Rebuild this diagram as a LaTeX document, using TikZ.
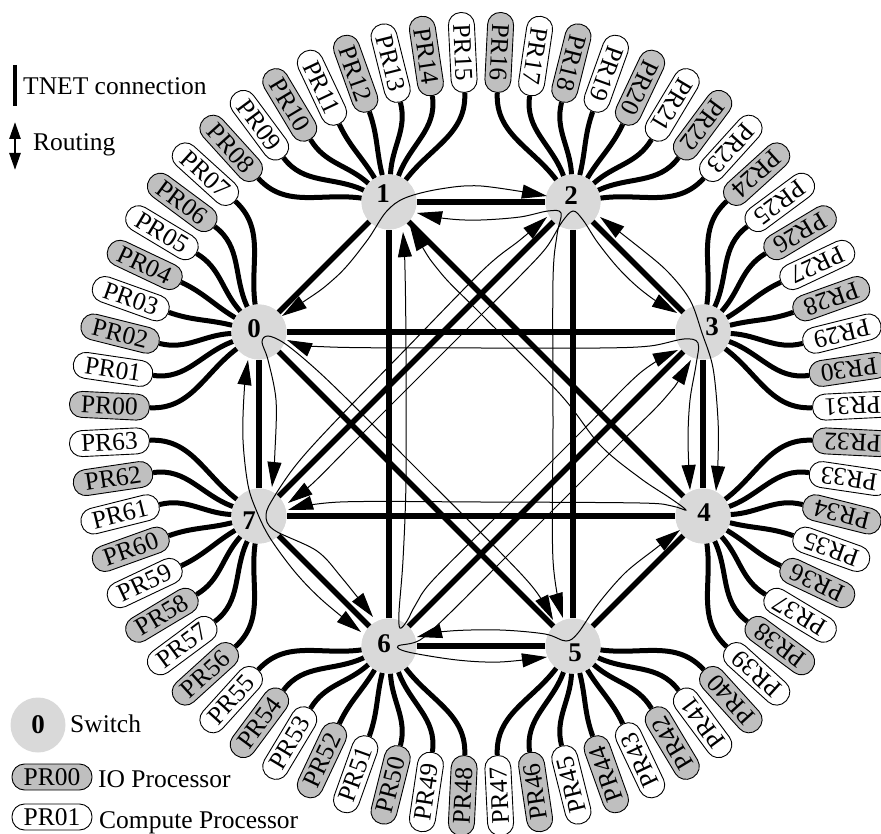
\documentclass[tikz,border=0pt]{standalone}
\usepackage{fontspec}
\setmainfont{Liberation Serif}
\usetikzlibrary{arrows.meta,calc}
\definecolor{swgray}{RGB}{217,217,217}
\definecolor{iogray}{RGB}{191,191,191}

\begin{document}
\begin{tikzpicture}[x=1pt,y=1pt,font=\fontsize{25.5}{30}\selectfont,
  switch/.style={circle,fill=swgray,minimum size=55pt,inner sep=0pt},
  num/.style={inner sep=0pt,font=\fontsize{27}{30}\selectfont\bfseries},
  proc/.style={draw,line width=0.9pt,rounded corners=12.5pt,minimum width=80pt,minimum height=26pt,inner sep=0pt},
  iop/.style={proc,fill=iogray},
  cop/.style={proc,fill=white},
  tnet/.style={line width=5.5pt},
  wire/.style={line width=5pt},
  route/.style={line width=1pt,{Triangle[length=25pt,width=14pt]}-{Triangle[length=25pt,width=14pt]}},
  lbl/.style={anchor=base west,inner sep=0pt}]
  \useasboundingbox (0,0) rectangle (881,-834);
  \coordinate (ctr) at (481,-424);

  % switches (numbers are set on top later)
  \foreach \i/\x/\y in {0/259/332,1/389/202,2/573/202,3/703/332,4/703/516,5/573/646,6/389/646,7/259/516}
    \node[switch] (s\i) at (\x,-\y) {};

  % processors
  \foreach \k in {0,...,63}{
    \pgfmathsetmacro\ang{177.1875-5.625*\k}
    \pgfmathsetmacro\rot{\ang-180}
    \ifodd\k\relax \tikzset{pk/.style={cop}}\else \tikzset{pk/.style={iop}}\fi
    \node[pk,rotate=\rot] (p\k) at ($(ctr)+(\ang:372)$) {PR\ifnum\k<10 0\fi\k};
  }
  \foreach \k in {0,...,63}{
    \pgfmathsetmacro\ang{177.1875-5.625*\k}
    \pgfmathsetmacro\outang{\ang+180}
    \pgfmathtruncatemacro\sw{\k/8}
    \pgfmathsetmacro\inang{157.5-45*\sw+(3.5-\k+8*\sw)*17}
    \draw[wire] (p\k.east) to[out=\outang,in=\inang] (s\sw);
  }

  % TNET connections
  \foreach \a/\b in {0/1,1/2,2/3,3/4,4/5,5/6,6/7,7/0,0/3,1/4,2/5,3/6,4/7,5/0,6/1,7/2}
    \draw[tnet] (s\a) -- (s\b);
  \foreach \i/\dx/\dy in {0/-5/3,1/-6/8,2/-2/6,3/9/5,4/1/3,5/2/-7,6/-5/2,7/-10/-5}{
    \node[switch] at (s\i) {};
    \node[num] at ($(s\i)+(\dx,\dy)$) {\i};
  }

  % routing
  \draw[route] plot[smooth,tension=0.55] coordinates {($(s0)+(23,16)$) (335,-278) (366,-242) (386,-212) (405,-198) (440,-189) (481,-186) ($(s2)+(-26,6)$)};
  \draw[route] plot[smooth,tension=0.55] coordinates {($(s0)+(28,-8)$) (330,-347) (481,-348) (600,-348) (650,-346) (684,-339) (698,-343) (696,-365) (690,-400) (688,-440) ($(s4)+(-13,26)$)};
  \draw[route] plot[smooth,tension=0.55] coordinates {($(s0)+(-11,-28)$) (244,-395) (243,-440) (248,-485) (257,-512) (270,-538) (295,-572) (322,-600) ($(s6)+(-28,14)$)};
  \draw[route] plot[smooth,tension=0.55] coordinates {($(s7)+(13,29)$) (275,-450) (276,-400) (268,-360) (262,-342) (268,-336) (284,-343) (310,-364) (343,-395) (420,-472) (500,-552) (535,-590) ($(s5)+(-20,26)$)};
  \draw[route] plot[smooth,tension=0.55] coordinates {($(s1)+(21,-24)$) (440,-272) (481,-314) (560,-394) (600,-445) (640,-478) (670,-498) (686,-510) (672,-506) (640,-503) (481,-502) (340,-502) ($(s7)+(29,6)$)};
  \draw[route] plot[smooth,tension=0.55] coordinates {($(s3)+(-12,-28)$) (665,-398) (620,-443) (560,-503) (500,-563) (450,-613) (420,-640) (398,-646) (408,-652) (457,-660) (500,-662) ($(s5)+(-26,-11)$)};
  \draw[route] plot[smooth,tension=0.55] coordinates {($(s6)+(28,9)$) (450,-631) (500,-630) (545,-634) (566,-641) (578,-633) (598,-604) (625,-573) (655,-549) ($(s4)+(-23,-14)$)};
  \draw[route] plot[smooth,tension=0.55] coordinates {($(s2)+(27,-15)$) (640,-248) (668,-272) (690,-300) (702,-333) (713,-368) (718,-420) (718,-460) ($(s4)+(13,25)$)};
  \draw[route] plot[smooth,tension=0.55] coordinates {($(s2)+(-26,-15)$) (520,-240) (483,-270) (400,-355) (330,-427) (296,-465) (274,-497) (266,-515) (274,-530) (317,-551) (342,-578) ($(s6)+(-16,29)$)};
  \draw[route] plot[smooth,tension=0.55] coordinates {($(s1)+(14,-30)$) (405,-270) (406,-350) (406,-480) (403,-560) (399,-612) (400,-628) (407,-621) (416,-604) (433,-580) (500,-513) (580,-433) (640,-373) ($(s3)+(-25,-18)$)};
  \draw[route] plot[smooth,tension=0.55] coordinates {($(s3)+(-26,19)$) (645,-293) (620,-270) (598,-243) (583,-220) (573,-211) (562,-222) (546,-248) (520,-276) (481,-315) (400,-396) (350,-446) (312,-484) ($(s7)+(29,13)$)};
  \draw[route] plot[smooth,tension=0.55] coordinates {($(s1)+(28,-11)$) (450,-219) (481,-220) (520,-217) (548,-211) (561,-213) (557,-235) (553,-280) (553,-424) (553,-560) ($(s5)+(-10,28)$)};

  % legend
  \draw[line width=4.5pt] (15,-65) -- (15,-106);
  \node[lbl] (lgtnet) at (23,-95) {TNET connection};
  \draw[line width=2.5pt,{Triangle[length=17pt,width=11pt]}-{Triangle[length=17pt,width=11pt]}] (15,-122) -- (15,-170);
  \node[lbl] (lgroute) at (33,-151) {Routing};
  \node[switch] (lgsw) at (38,-725) {};
  \node[num] at (lgsw) {0};
  \node[lbl] at (70,-732) {Switch};
  \node[iop] (lgio) at (52,-777) {PR00};
  \node[lbl] at (98,-787) {IO Processor};
  \node[cop] (lgco) at (52,-817) {PR01};
  \node[lbl] at (99,-828) {Compute Processor};
\end{tikzpicture}
\end{document}
